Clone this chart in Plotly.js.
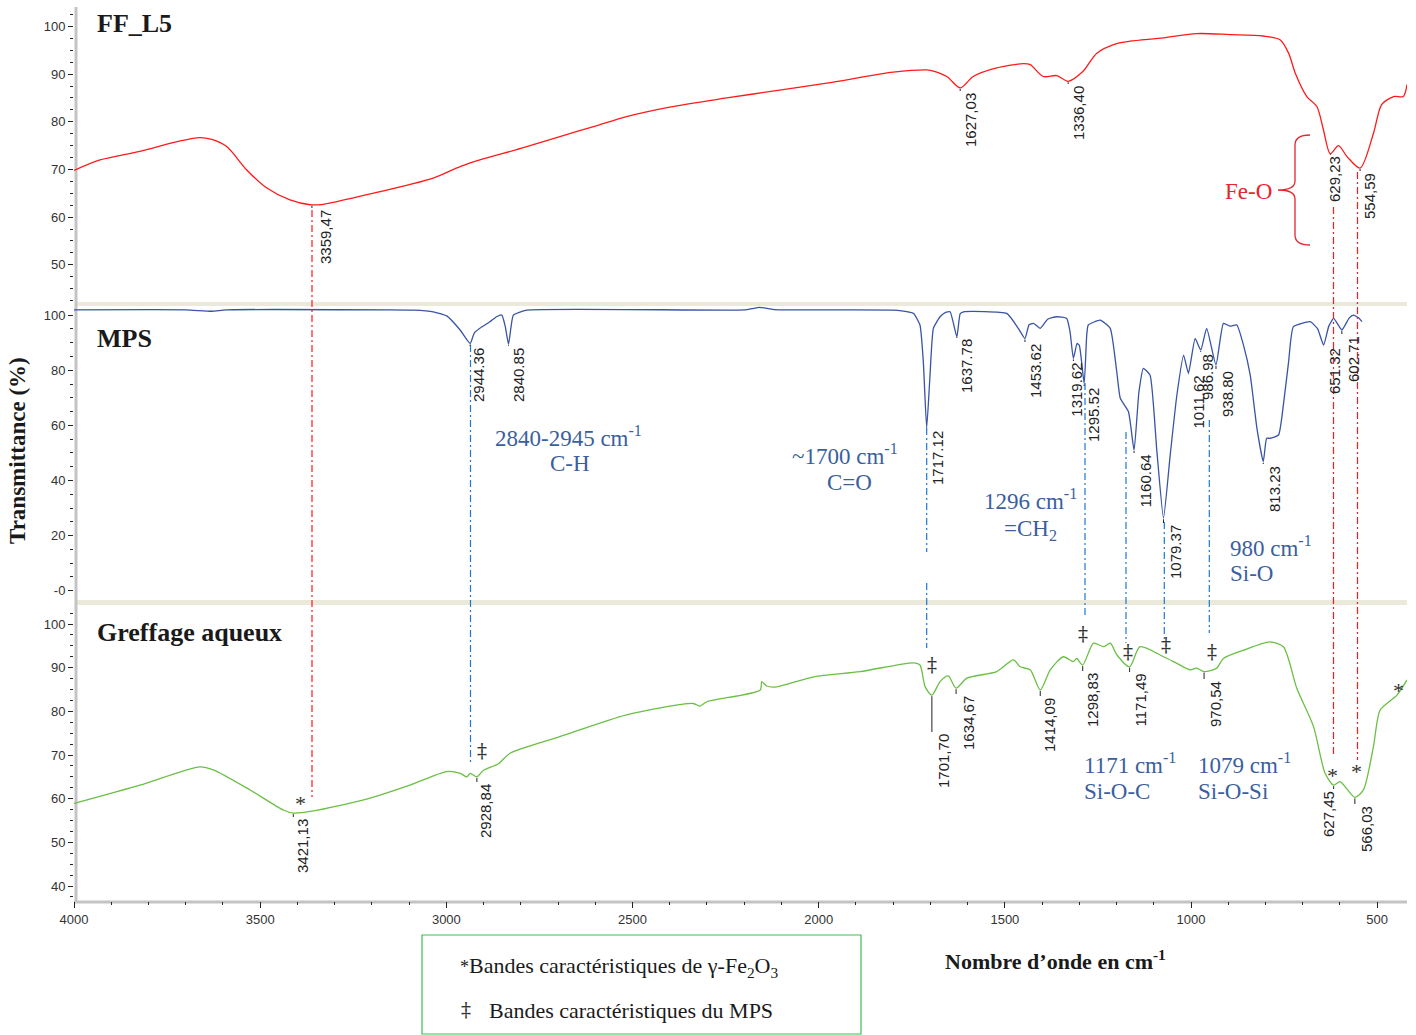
<!DOCTYPE html>
<html><head><meta charset="utf-8">
<script src="https://cdn.plot.ly/plotly-3.0.1.min.js"></script>
<style>body{margin:0;background:#fff}#g{width:1416px;height:1035px}</style>
</head><body><div id="g"></div>
<script>
// ---------------- DATA ----------------
const ffWave = [4000,3930,3823,3720,3662,3630,3590,3536,3482,3420,3366,3330,3214,3035,2963,2910,2800,2695,2600,2516,2400,2247,2100,1978,1800,1710,1700,1656,1620,1585,1522,1450,1432,1397,1361,1330,1290,1253,1200,1164,1074,985,895,806,761,738,720,689,662,645,626,604,581,546,510,488,456,430,420];
const ffT    = [69.8,72.0,73.8,75.9,76.7,76.3,74.8,69.9,66.1,63.6,62.6,62.7,64.7,68.2,70.6,72.0,74.4,76.9,79.1,81.1,83.1,85.0,86.7,88.1,90.4,90.9,90.8,89.5,87.1,89.5,91.3,92.2,92.0,89.5,89.7,88.5,90.6,94.4,96.4,96.9,97.6,98.5,98.3,98.0,97.2,94.4,90.2,85.3,83.2,78.5,73.3,75.0,72.7,70.3,77.6,83.6,85.3,85.3,87.8];

const mpsWave = [4000,3700,3630,3590,3160,3089,3035,2999,2963,2936,2925,2910,2883,2865,2851,2842,2833,2826,2820,2784,2200,2158,2120,1800,1760,1745,1728,1719,1710,1701,1692,1674,1660,1647,1629,1620,1611,1495,1464,1446,1435,1423,1405,1385,1361,1334,1325,1316,1306,1300,1287,1280,1276,1244,1217,1200,1190,1168,1153,1140,1128,1110,1092,1074,1056,1038,1020,1007,989,974,958,933,913,895,877,859,841,823,806,797,788,765,752,738,725,680,660,644,630,617,595,575,564,550,541];
const mpsT    = [101.9,101.9,101.4,101.9,101.9,101.8,101.2,99.7,94.6,89.7,93.5,95.2,97.6,99.4,100.0,96.0,89.4,96.0,100.0,101.8,101.9,102.8,102.0,101.8,101.2,100.6,96.4,83.1,59.0,78.2,95.2,99.4,100.9,101.2,92.1,100.5,101.2,100.6,95.2,91.5,96.5,97.0,95.2,98.5,99.4,98.8,94.0,84.3,89.7,89.0,75.2,93.0,96.4,98.2,95.2,80.0,69.8,64.9,51.0,72.0,80.7,78.2,51.0,26.3,49.2,71.0,85.5,78.9,91.5,87.3,95.2,81.9,97.0,96.0,96.4,89.0,78.2,58.9,46.8,55.3,55.3,56.5,67.4,83.0,95.8,97.6,95.0,89.1,96.0,98.8,94.6,99.0,100.0,99.0,97.6];

const grWave = [4000,3823,3662,3626,3527,3438,3411,3357,3214,3098,2999,2963,2945,2936,2918,2900,2860,2829,2695,2516,2337,2319,2300,2157,2153,2140,2113,2014,1889,1746,1728,1714,1696,1674,1652,1631,1602,1522,1477,1459,1432,1405,1378,1343,1316,1307,1291,1262,1235,1217,1199,1165,1137,1074,1038,1002,985,965,931,913,859,788,752,716,671,640,617,600,560,537,510,492,447,420];
const grT    = [58.9,63.1,67.3,66.6,62.0,57.4,56.7,57.2,59.9,63.1,66.2,65.8,65.0,65.8,65.0,66.5,68.0,70.4,74.2,79.2,81.8,81.2,82.2,84.9,86.8,85.8,85.6,87.9,89.1,91.1,90.6,85.6,83.7,86.8,88.1,85.3,87.6,89.1,91.8,90.2,89.5,84.9,89.5,92.5,91.4,92.1,90.6,95.6,94.8,95.6,92.9,90.2,94.8,92.5,91.0,89.5,89.9,89.1,89.9,92.1,94.0,95.9,94.8,85.3,76.5,65.8,63.1,63.9,60.3,62.0,72.0,80.3,83.7,87.2];

// peak labels (text) and wavenumber of the observed minimum
const ffPeakText  = ['3359,47','1627,03','1336,40','629,23','554,59'];
const ffPeakWave  = [3361,1620,1330,626,546];
const mpsPeakText = ['2944.36','2840.85','1717.12','1637.78','1453.62','1319.62','1295.52','1160.64','1079.37','1011.62','986.98','938.80','813.23','651.32','602.71'];
const mpsPeakWave = [2936,2833,1710,1629,1446,1316,1287,1153,1074,1007,974,933,806,644,595];
const grPeakText  = ['3421,13','2928,84','1701,70','1634,67','1414,09','1298,83','1171,49','970,54','627,45','566,03'];
const grPeakWave  = [3411,2918,1696,1631,1405,1291,1165,965,617,560];

const xTickVals = [4000,3500,3000,2500,2000,1500,1000,500];

// ---------------- LAYOUT GEOMETRY ----------------
const W=1416,H=1035, L=74, R=1407, TOP=5, BOT=901;
const XR=[4000,420];
const PW=R-L, PH=BOT-TOP;
const panels = [ // pixel top/bottom, data range
  {top:5,   bot:302, range:[42.2,104.5], ref:'y'},
  {top:306, bot:600, range:[-3.37,103.3], ref:'y2'},
  {top:605, bot:901, range:[36.57,104.35], ref:'y3'}
];
const pyPaper = py => (BOT-py)/PH;
const pxPaper = px => (px-L)/PW;
const pxWave  = px => XR[0] - (px-L)*(XR[0]-XR[1])/PW;
function pyData(i,py){const p=panels[i];return p.range[1]-(py-p.top)*(p.range[1]-p.range[0])/(p.bot-p.top);}
function pxPerUnit(i){const p=panels[i];return (p.bot-p.top)/(p.range[1]-p.range[0]);}
function interp(xs,ys,x){for(let k=0;k<xs.length-1;k++){if(x<=xs[k]&&x>=xs[k+1]){const t=(xs[k]-x)/(xs[k]-xs[k+1]);return ys[k]+t*(ys[k+1]-ys[k]);}}return ys[ys.length-1];}

const RED='#ff1a1a', BLUE='#3953a6', GREEN='#6abf45', TXTBLUE='#3b5f9e', DROPBLUE='#1f78d0';
const traces = [
  {x:ffWave,y:ffT,type:'scatter',mode:'lines',line:{color:RED,width:1.3,shape:'spline',smoothing:0.8},xaxis:'x',yaxis:'y',hoverinfo:'skip'},
  {x:mpsWave,y:mpsT,type:'scatter',mode:'lines',line:{color:BLUE,width:1.3,shape:'spline',smoothing:0.45},xaxis:'x',yaxis:'y2',hoverinfo:'skip'},
  {x:grWave,y:grT,type:'scatter',mode:'lines',line:{color:GREEN,width:1.3,shape:'spline',smoothing:0.7},xaxis:'x',yaxis:'y3',hoverinfo:'skip'}
];

const tickFont={family:'Liberation Sans, Arial, sans-serif',size:13,color:'#333'};
function yax(i,tickvals,ticktext,minor){
  const p=panels[i];
  return {domain:[pyPaper(p.bot),pyPaper(p.top)],range:p.range,tickvals:tickvals,ticktext:ticktext,
    ticks:'outside',ticklen:5,tickwidth:1,tickcolor:'#222',showline:false,showgrid:false,zeroline:false,
    tickfont:tickFont,minor:{dtick:minor,tick0:0,ticks:'outside',ticklen:3,tickcolor:'#222',showgrid:false},
    fixedrange:true,anchor:'x'};
}

const layout = {
  width:W,height:H,margin:{l:L,r:W-R,t:TOP,b:H-BOT},paper_bgcolor:'#fff',plot_bgcolor:'rgba(0,0,0,0)',
  showlegend:false,
  xaxis:{range:XR,anchor:'y3',tickvals:xTickVals,ticks:'outside',ticklen:6,tickcolor:'#222',showline:false,
    showgrid:false,zeroline:false,tickfont:tickFont,minor:{dtick:100,tick0:0,ticks:'outside',ticklen:3,tickcolor:'#222',showgrid:false}},
  yaxis:yax(0,[50,60,70,80,90,100],['50','60','70','80','90','100'],2.5),
  yaxis2:yax(1,[0,20,40,60,80,100],['-0','20','40','60','80','100'],5),
  yaxis3:yax(2,[40,50,60,70,80,90,100],['40','50','60','70','80','90','100'],2.5),
  shapes:[],annotations:[]
};
const S=layout.shapes, A=layout.annotations;

// separator bands and axis lines
S.push({type:'rect',xref:'paper',yref:'paper',x0:pxPaper(77),x1:1,y0:pyPaper(306),y1:pyPaper(302),fillcolor:'#ebe9da',line:{width:0},layer:'below'});
S.push({type:'rect',xref:'paper',yref:'paper',x0:pxPaper(77),x1:1,y0:pyPaper(605),y1:pyPaper(600),fillcolor:'#ebe9da',line:{width:0},layer:'below'});
S.push({type:'line',xref:'paper',yref:'paper',x0:pxPaper(76),x1:pxPaper(76),y0:pyPaper(903),y1:pyPaper(7),line:{color:'#c4c4c4',width:3},layer:'below'});
S.push({type:'line',xref:'paper',yref:'paper',x0:pxPaper(74),x1:1,y0:pyPaper(902),y1:pyPaper(902),line:{color:'#c4c4c4',width:3},layer:'below'});

// drop lines (dash-dot)
const DD='7px,3px,2px,3px';
function drop(px,py0,py1,color){S.push({type:'line',xref:'x',yref:'paper',x0:pxWave(px),x1:pxWave(px),y0:pyPaper(py0),y1:pyPaper(py1),line:{color:color,width:1.2,dash:DD}});}
drop(312,210,797,RED); drop(1333.5,207,757,RED); drop(1357.5,172,760,RED);
drop(470.5,345,763,DROPBLUE); drop(926.7,428,552,DROPBLUE); drop(926.7,583,648,DROPBLUE);
drop(1085,383,615,DROPBLUE); drop(1126,432,643,DROPBLUE); drop(1164.3,522,640,DROPBLUE); drop(1209.3,420,633,DROPBLUE);

// peak labels: label centre x (px) and label top (py)
const lblFont={family:'Liberation Sans, Arial, sans-serif',size:15,color:'#222'};
const ffLbl  = [[325,209],[970,92],[1078,85],[1334,155],[1369,172]];
const mpsLbl = [[478,347],[518,347],[937,430],[966,338],[1035,343],[1075.7,362],[1093,387],[1145,454],[1175,524],[1198,375],[1207,353],[1227,370],[1274,465],[1334,347],[1353,335]];
const grLbl  = [[302,818],[485,783],[943,733],[968,695],[1049,697],[1092,672],[1140,673],[1215,680],[1328,790],[1366,805]];
function peaks(i,texts,waves,lbls,xs,ys){
  const p=panels[i];
  texts.forEach((t,k)=>{
    const [cx,ty]=lbls[k];
    A.push({x:pxWave(cx),y:pyData(i,ty),xref:'x',yref:p.ref,text:t,textangle:-90,xanchor:'center',yanchor:'top',showarrow:false,font:lblFont,borderpad:0});
    const yc=interp(xs,ys,waves[k]);
    S.push({type:'line',xref:'x',yref:p.ref,x0:waves[k],x1:waves[k],y0:yc-1/pxPerUnit(i),y1:pyData(i,ty-1),line:{color:'#222',width:1}});
  });
}
peaks(0,ffPeakText,ffPeakWave,ffLbl,ffWave,ffT);
peaks(1,mpsPeakText,mpsPeakWave,mpsLbl,mpsWave,mpsT);
peaks(2,grPeakText,grPeakWave,grLbl,grWave,grT);

// panel titles
const bold={family:'Liberation Serif, Times New Roman, serif',size:26,color:'#1a1a1a'};
function ptext(text,px,py,font,xa){A.push({x:pxPaper(px),y:pyPaper(py),xref:'paper',yref:'paper',text:text,showarrow:false,xanchor:xa||'left',yanchor:'middle',font:font});}
ptext('<b>FF_L5</b>',95,24,bold);
ptext('<b>MPS</b>',95,338,bold);
ptext('<b>Greffage aqueux</b>',95,632,bold);
A.push({x:pxPaper(18),y:pyPaper(451),xref:'paper',yref:'paper',text:'<b>Transmittance (%)</b>',textangle:-90,showarrow:false,xanchor:'center',yanchor:'middle',font:{family:'Liberation Serif, Times New Roman, serif',size:23,color:'#1a1a1a'}});
ptext('<b>Nombre d’onde en cm<sup>-1</sup></b>',1055,960,{family:'Liberation Serif, Times New Roman, serif',size:22,color:'#1a1a1a'},'center');

// assignment texts
const bl={family:'Liberation Serif, Times New Roman, serif',size:23,color:TXTBLUE};
ptext('2840-2945 cm<sup>-1</sup>',568,436,bl,'center');
ptext('C-H',570,463,bl,'center');
ptext('~1700 cm<sup>-1</sup>',845,455,bl,'center');
ptext('C=O',849,482,bl,'center');
ptext('1296 cm<sup>-1</sup>',1030,499,bl,'center');
ptext('=CH<sub>2</sub>',1030,530,bl,'center');
ptext('980 cm<sup>-1</sup>',1228,546,bl);
ptext('Si-O',1228,573,bl);
ptext('1171 cm<sup>-1</sup>',1082,763,bl);
ptext('Si-O-C',1082,791,bl);
ptext('1079 cm<sup>-1</sup>',1196,763,bl);
ptext('Si-O-Si',1196,791,bl);
ptext('Fe-O',1248,191,{family:'Liberation Serif, Times New Roman, serif',size:23,color:'#e8242c'},'center');

// Fe-O bracket
const bx=v=>pxPaper(v), by=v=>pyPaper(v);
S.push({type:'path',xref:'paper',yref:'paper',line:{color:'#e8242c',width:1.3},
  path:`M ${bx(1310)},${by(135)} Q ${bx(1295)},${by(135)} ${bx(1295)},${by(145)} L ${bx(1295)},${by(181)} Q ${bx(1295)},${by(190)} ${bx(1278)},${by(190)} Q ${bx(1295)},${by(190)} ${bx(1295)},${by(199)} L ${bx(1295)},${by(235)} Q ${bx(1295)},${by(245)} ${bx(1310)},${by(245)}`});

// * and ‡ markers
const sym={family:'Liberation Serif, Times New Roman, serif',size:22,color:'#333'};
const dag={family:'DejaVu Serif, Liberation Serif, serif',size:20,color:'#333'};
function mark(t,px,py,sh,f){A.push({x:pxPaper(px),y:pyPaper(py),xref:'paper',yref:'paper',text:t,showarrow:false,xanchor:'center',yanchor:'middle',yshift:sh||0,font:f||sym});}
mark('*',300,797,-6); mark('*',1332,769,-6); mark('*',1356,765,-6); mark('*',1398,684,-6);
[[482,751],[932,665],[1083,634],[1128,652],[1166,645],[1212,652]].forEach(p=>mark('‡',p[0],p[1],0,dag));

// legend box
S.push({type:'rect',xref:'paper',yref:'paper',x0:pxPaper(422),x1:pxPaper(861),y0:pyPaper(1034),y1:pyPaper(935),line:{color:'#3cbf55',width:1.2},fillcolor:'rgba(0,0,0,0)'});
const lg={family:'Liberation Serif, Times New Roman, serif',size:22,color:'#1a1a1a'};
ptext('<span style="font-size:18px">*</span>Bandes caractéristiques de γ-Fe<sub>2</sub>O<sub>3</sub>',458,967,lg);
ptext('‡',459,1010,dag);
ptext('Bandes caractéristiques du MPS',487,1010,lg);

Plotly.newPlot('g',traces,layout,{displayModeBar:false,staticPlot:true});
</script></body></html>
